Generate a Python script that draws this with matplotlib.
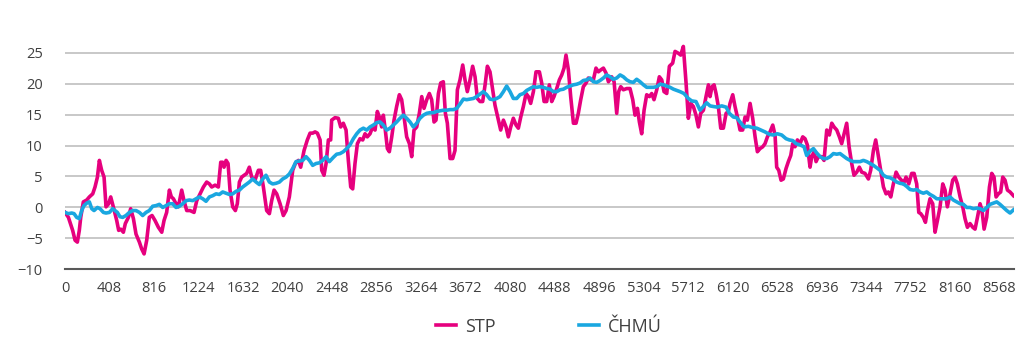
import matplotlib
matplotlib.use("Agg")
import matplotlib.pyplot as plt

# hodiny roku a teploty (°C)
stp_hours = [
    0, 31, 70, 92, 113, 131, 144, 168, 199, 223, 254, 275, 297, 315, 336, 358, 376, 400, 419, 443,
    474, 492, 511, 535, 553, 581, 602, 627, 651, 682, 703, 725, 749, 773, 798, 825, 856, 887, 908, 932,
    957, 975, 994, 1018, 1039, 1070, 1091, 1116, 1146, 1183, 1208, 1238, 1269, 1299, 1324, 1345, 1376, 1406, 1428, 1446,
    1458, 1477, 1495, 1513, 1538, 1562, 1580, 1599, 1620, 1666, 1690, 1712, 1742, 1773, 1794, 1819, 1849, 1874, 1895, 1917,
    1941, 1972, 2002, 2027, 2057, 2088, 2112, 2140, 2161, 2192, 2222, 2247, 2271, 2293, 2314, 2339, 2354, 2375, 2394, 2415,
    2436, 2445, 2476, 2506, 2528, 2552, 2577, 2598, 2620, 2638, 2659, 2681, 2705, 2730, 2751, 2772, 2797, 2821, 2843, 2864,
    2882, 2904, 2919, 2937, 2956, 2974, 2996, 3017, 3041, 3066, 3087, 3109, 3133, 3158, 3179, 3200, 3225, 3249, 3271, 3292,
    3317, 3341, 3362, 3384, 3402, 3424, 3445, 3469, 3488, 3506, 3531, 3555, 3576, 3598, 3622, 3647, 3668, 3689, 3714, 3738,
    3760, 3781, 3806, 3830, 3852, 3873, 3897, 3922, 3943, 3974, 3995, 4020, 4044, 4065, 4087, 4111, 4136, 4157, 4179, 4203,
    4228, 4249, 4270, 4295, 4319, 4350, 4371, 4393, 4417, 4441, 4463, 4484, 4509, 4533, 4555, 4576, 4594, 4616, 4637, 4662,
    4686, 4707, 4729, 4753, 4778, 4799, 4821, 4845, 4869, 4891, 4912, 4937, 4961, 4983, 5013, 5035, 5059, 5077, 5096, 5120,
    5151, 5181, 5206, 5227, 5249, 5267, 5288, 5310, 5334, 5359, 5380, 5401, 5426, 5450, 5472, 5493, 5518, 5542, 5572, 5594,
    5624, 5646, 5670, 5695, 5716, 5738, 5762, 5786, 5808, 5829, 5854, 5878, 5900, 5915, 5933, 5952, 5970, 5991, 6013, 6037,
    6062, 6083, 6098, 6123, 6144, 6166, 6190, 6214, 6236, 6257, 6282, 6306, 6328, 6349, 6373, 6398, 6419, 6441, 6465, 6490,
    6511, 6526, 6545, 6566, 6587, 6612, 6633, 6655, 6673, 6694, 6716, 6740, 6765, 6786, 6807, 6832, 6847, 6869, 6887, 6908,
    6939, 6960, 6985, 7009, 7031, 7052, 7077, 7101, 7122, 7144, 7168, 7190, 7214, 7235, 7260, 7284, 7306, 7336, 7367, 7388,
    7413, 7434, 7459, 7480, 7505, 7529, 7550, 7572, 7596, 7621, 7645, 7670, 7688, 7712, 7737, 7764, 7786, 7810, 7829, 7847,
    7871, 7890, 7908, 7932, 7957, 7978, 8000, 8024, 8049, 8070, 8091, 8116, 8140, 8162, 8183, 8208, 8232, 8253, 8275, 8299,
    8324, 8345, 8367, 8391, 8409, 8428, 8452, 8477, 8498, 8519, 8538, 8559, 8580, 8599, 8620, 8642, 8666, 8697,
]
stp_temp = [
    -0.8, -1.6, -3.7, -5.3, -5.6, -3.7, -1.6, 0.9, 1.2, 1.7, 2.2, 3.3, 4.9, 7.6, 6.0, 4.9, 0.1, 0.6, 1.7, 0.1,
    -2.1, -3.7, -3.5, -4.0, -2.6, -1.6, -0.2, -1.8, -4.3, -5.6, -6.7, -7.5, -5.3, -1.6, -1.3, -2.1, -3.2, -4.0, -2.1, -0.8,
    2.8, 1.7, 1.4, 0.6, 0.1, 2.8, 1.1, -0.5, -0.5, -0.8, 1.1, 2.2, 3.3, 4.1, 3.8, 3.3, 3.6, 3.3, 7.3, 7.3,
    6.5, 7.6, 7.1, 2.8, 0.1, -0.5, 0.6, 4.1, 4.9, 5.5, 6.5, 4.9, 4.4, 6.0, 6.0, 3.3, -0.5, -1.0, 1.1, 2.8,
    2.2, 0.6, -1.3, -0.5, 1.7, 6.0, 7.1, 7.6, 6.5, 9.2, 10.9, 12.0, 12.0, 12.2, 12.0, 10.9, 6.0, 5.2, 7.1, 10.9,
    10.9, 14.1, 14.5, 14.4, 13.0, 13.6, 12.5, 7.6, 3.3, 3.0, 7.1, 10.3, 11.1, 10.9, 11.9, 11.4, 11.9, 13.0, 12.5, 15.5,
    14.6, 13.0, 14.9, 12.5, 9.5, 9.0, 11.4, 14.1, 16.3, 18.2, 17.4, 14.6, 11.4, 10.3, 8.2, 12.5, 13.0, 15.2, 17.9, 16.0,
    17.4, 18.4, 17.4, 13.8, 14.1, 18.4, 20.1, 20.3, 15.2, 13.6, 7.9, 7.9, 9.2, 19.0, 20.6, 23.0, 20.6, 18.7, 20.6, 22.8,
    21.1, 17.6, 17.1, 17.1, 19.8, 22.8, 21.9, 19.0, 16.5, 14.1, 12.5, 14.1, 13.0, 11.4, 13.0, 14.4, 13.3, 12.8, 14.6, 16.3,
    18.4, 17.9, 16.8, 18.7, 21.9, 21.9, 20.1, 17.1, 17.1, 19.8, 17.1, 17.9, 19.2, 20.6, 21.4, 22.5, 24.6, 22.2, 17.9, 13.6,
    13.6, 15.2, 17.4, 19.5, 20.1, 20.9, 20.6, 20.6, 22.5, 21.9, 22.2, 22.5, 21.7, 20.3, 21.1, 20.3, 15.2, 18.7, 19.5, 19.0,
    19.2, 19.2, 17.4, 14.9, 16.0, 13.8, 11.9, 15.7, 18.2, 17.9, 18.4, 17.4, 19.0, 21.1, 20.6, 18.7, 18.4, 22.8, 23.3, 25.2,
    24.9, 24.6, 26.0, 20.1, 14.4, 16.8, 16.3, 14.9, 13.0, 15.2, 15.7, 17.9, 19.8, 17.9, 19.5, 19.8, 18.4, 16.3, 12.8, 12.8,
    15.2, 15.5, 16.8, 18.2, 16.3, 14.6, 12.5, 12.5, 14.6, 14.1, 16.8, 14.4, 11.4, 9.0, 9.5, 9.8, 10.3, 11.4, 12.2, 13.3,
    11.7, 6.5, 6.0, 4.4, 4.6, 6.3, 7.4, 8.4, 10.3, 9.8, 10.9, 10.3, 11.4, 11.1, 10.1, 6.5, 8.2, 9.0, 7.4, 8.2,
    8.2, 7.6, 12.5, 11.7, 13.6, 13.0, 12.5, 11.4, 10.3, 11.9, 13.6, 9.8, 7.1, 5.2, 5.7, 6.5, 5.7, 5.5, 4.6, 6.0,
    9.2, 10.9, 8.2, 6.0, 3.3, 2.2, 2.5, 1.7, 3.8, 5.7, 4.9, 4.4, 3.8, 4.9, 3.8, 5.5, 5.5, 3.8, -0.8, -1.0,
    -1.6, -2.4, -0.5, 1.4, 0.6, -4.0, -2.1, 0.1, 3.8, 2.8, 0.1, 2.2, 4.4, 4.9, 3.8, 1.7, 0.1, -1.8, -3.2, -2.6,
    -3.2, -3.5, -1.6, 0.6, -0.5, -3.5, -1.6, 3.3, 5.5, 4.9, 1.7, 2.2, 2.5, 4.9, 4.4, 2.8, 2.5, 1.9,
]

chmu_hours = [
    0, 31, 61, 83, 107, 131, 153, 174, 199, 223, 245, 266, 297, 321, 352, 376, 407, 437, 459, 480,
    504, 529, 559, 590, 621, 651, 682, 712, 743, 773, 804, 835, 865, 896, 926, 957, 987, 1018, 1049, 1079,
    1110, 1140, 1171, 1201, 1232, 1263, 1293, 1324, 1354, 1385, 1415, 1446, 1477, 1507, 1538, 1568, 1599, 1629, 1660, 1690,
    1721, 1752, 1782, 1813, 1843, 1874, 1904, 1935, 1966, 1996, 2027, 2057, 2088, 2118, 2149, 2180, 2210, 2241, 2271, 2302,
    2332, 2363, 2394, 2424, 2461, 2491, 2522, 2552, 2583, 2613, 2644, 2675, 2705, 2736, 2766, 2797, 2827, 2858, 2889, 2919,
    2950, 2980, 3011, 3041, 3072, 3103, 3133, 3164, 3194, 3225, 3255, 3286, 3317, 3347, 3378, 3408, 3439, 3469, 3500, 3531,
    3561, 3592, 3622, 3653, 3683, 3714, 3745, 3775, 3806, 3836, 3867, 3897, 3928, 3959, 3989, 4020, 4050, 4081, 4111, 4142,
    4172, 4203, 4234, 4264, 4295, 4325, 4356, 4386, 4417, 4448, 4478, 4509, 4539, 4570, 4600, 4631, 4662, 4692, 4723, 4753,
    4784, 4814, 4845, 4876, 4906, 4937, 4967, 4998, 5028, 5059, 5090, 5120, 5151, 5181, 5212, 5242, 5273, 5304, 5334, 5365,
    5395, 5426, 5456, 5487, 5518, 5548, 5579, 5609, 5640, 5676, 5716, 5747, 5786, 5823, 5854, 5884, 5915, 5945, 5982, 6022,
    6062, 6092, 6129, 6159, 6190, 6227, 6266, 6306, 6343, 6380, 6419, 6459, 6496, 6532, 6572, 6612, 6642, 6673, 6704, 6740,
    6777, 6801, 6832, 6863, 6893, 6924, 6954, 6985, 7015, 7046, 7077, 7107, 7138, 7168, 7199, 7230, 7260, 7291, 7321, 7352,
    7382, 7413, 7443, 7474, 7505, 7535, 7566, 7596, 7627, 7657, 7688, 7718, 7749, 7780, 7810, 7841, 7871, 7902, 7932, 7963,
    7994, 8024, 8055, 8085, 8116, 8146, 8177, 8208, 8238, 8269, 8299, 8330, 8360, 8391, 8422, 8452, 8483, 8513, 8544, 8574,
    8605, 8636, 8666, 8697,
]
chmu_temp = [
    -0.8, -1.0, -0.9, -1.0, -1.6, -1.8, -0.5, 0.3, 0.7, 0.9, -0.2, -0.5, 0.0, -0.2, -0.8, -0.9, -0.8, -0.2, -0.5, -0.8,
    -1.5, -1.6, -1.3, -0.8, -0.5, -0.5, -0.8, -1.3, -0.8, -0.5, 0.2, 0.3, 0.5, 0.0, 0.3, 0.6, 0.6, 0.0, 0.2, 0.6,
    1.1, 1.2, 1.1, 1.4, 1.7, 1.4, 1.0, 1.7, 1.9, 2.2, 2.1, 2.5, 2.3, 2.1, 2.2, 2.6, 2.8, 3.3, 3.7, 4.1,
    4.6, 4.1, 3.7, 4.6, 5.2, 4.1, 3.8, 3.9, 4.1, 4.6, 4.9, 5.4, 6.3, 7.4, 7.5, 7.6, 8.2, 7.6, 6.8, 7.1,
    7.2, 7.6, 8.2, 7.4, 8.1, 8.6, 8.7, 9.0, 9.5, 10.1, 11.1, 11.9, 12.5, 12.8, 12.5, 13.0, 13.3, 13.7, 13.8, 13.3,
    12.5, 12.8, 13.3, 13.8, 14.4, 14.9, 14.4, 13.8, 13.0, 13.6, 14.4, 14.9, 15.2, 15.3, 15.3, 15.5, 15.6, 15.7, 15.7, 15.8,
    15.8, 16.0, 16.7, 17.5, 17.4, 17.5, 17.6, 17.9, 18.3, 18.7, 18.2, 17.5, 17.4, 17.6, 17.9, 18.7, 19.6, 18.7, 17.6, 17.6,
    18.2, 18.4, 18.9, 19.2, 19.5, 19.4, 19.5, 19.4, 19.2, 19.1, 18.7, 18.7, 19.0, 19.1, 19.4, 19.6, 19.8, 19.9, 20.1, 20.5,
    20.6, 20.9, 20.3, 20.2, 20.5, 20.9, 21.4, 21.1, 20.7, 20.9, 21.4, 21.1, 20.6, 20.3, 20.2, 20.7, 20.3, 19.8, 19.4, 19.4,
    19.4, 19.5, 19.9, 19.8, 19.6, 19.4, 19.1, 18.9, 18.7, 18.4, 17.6, 17.2, 17.1, 15.7, 16.3, 16.9, 16.4, 16.3, 16.2, 16.4,
    16.2, 15.2, 14.6, 14.5, 13.8, 13.0, 13.1, 12.9, 12.8, 12.5, 12.2, 11.8, 11.7, 11.9, 11.7, 11.1, 10.9, 10.8, 10.3, 10.1,
    9.8, 8.4, 9.1, 9.5, 8.8, 8.2, 7.9, 7.9, 8.2, 8.7, 8.6, 8.7, 8.3, 7.9, 7.6, 7.4, 7.4, 7.4, 7.6, 7.4,
    7.1, 6.8, 6.4, 6.0, 5.2, 4.9, 4.8, 4.5, 4.1, 3.9, 3.8, 3.4, 2.9, 2.8, 2.9, 2.5, 2.3, 2.5, 2.1, 1.8,
    1.4, 1.4, 1.4, 1.4, 1.7, 1.2, 0.9, 0.6, 0.5, 0.0, 0.0, -0.2, -0.1, -0.2, -0.5, 0.0, 0.5, 0.7, 0.9, 0.5,
    0.0, -0.5, -0.9, -0.4,
]

x_ticks = list(range(0, 8569, 408))
y_ticks = [-10, -5, 0, 5, 10, 15, 20, 25]

plt.rcParams["font.family"] = ["Open Sans", "DejaVu Sans"]

fig = plt.figure(figsize=(10.24, 3.41), dpi=100)
ax = fig.add_axes([0.0635, 0.21, 0.9265, 0.672])

ax.plot(stp_hours, stp_temp, color="#e6007e", lw=2.6, label="STP", solid_joinstyle="round")
ax.plot(chmu_hours, chmu_temp, color="#1aa7e0", lw=2.6, label="ČHMÚ", solid_joinstyle="round")

ax.set_xlim(0, 8700)
ax.set_ylim(-10, 27)
ax.set_xticks(x_ticks)
ax.set_yticks(y_ticks)
ax.tick_params(axis="both", length=0, labelsize=10.5, colors="#404040")
ax.tick_params(axis="x", pad=8)
ax.tick_params(axis="y", pad=16)

ax.grid(axis="y", color="#bfbfbf", lw=1.2)
ax.set_axisbelow(True)
for side in ["top", "right", "left"]:
    ax.spines[side].set_visible(False)
ax.spines["bottom"].set_color("#595959")
ax.spines["bottom"].set_linewidth(1.5)

ax.legend(loc="upper center", bbox_to_anchor=(0.51, -0.14), ncol=2, frameon=False,
          fontsize=13, handlelength=1.1, handletextpad=0.5, columnspacing=4.6,
          labelcolor="#404040")

fig.savefig("out.png", dpi=100)
